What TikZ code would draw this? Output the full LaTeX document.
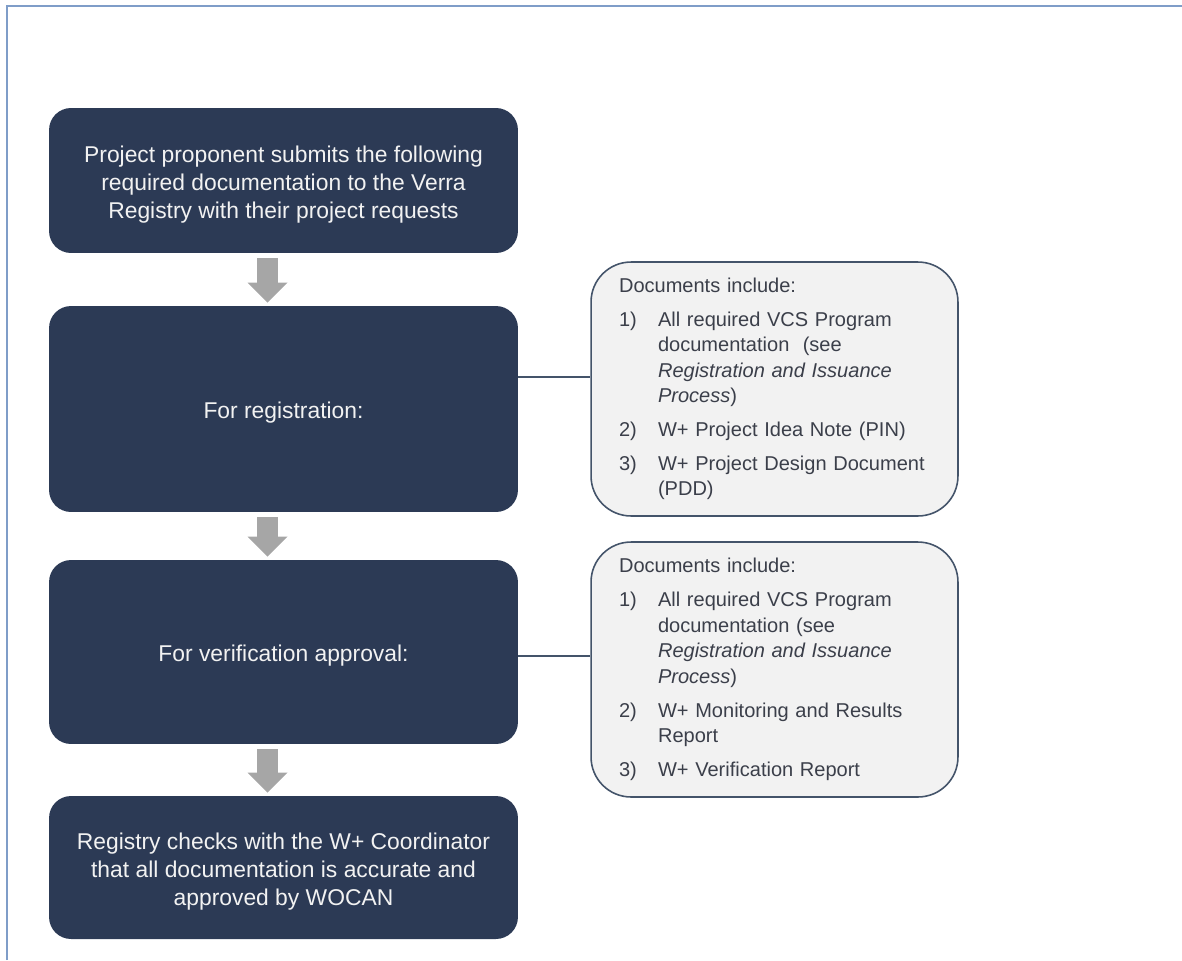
\documentclass[tikz,border=0pt]{standalone}
\usepackage{fontspec}
\setmainfont{Liberation Sans}
\usetikzlibrary{arrows.meta}
\usetikzlibrary{positioning}

\definecolor{navy}{HTML}{2C3A55}
\definecolor{boxtext}{HTML}{F2F2F2}
\definecolor{sidefill}{HTML}{F2F2F2}
\definecolor{sidetext}{HTML}{3B3F4A}
\definecolor{edgecol}{HTML}{44546A}
\definecolor{arrowgray}{HTML}{A6A6A6}
\definecolor{framecol}{HTML}{7F9DC8}

\newcommand{\topstrut}{\rule{0pt}{14pt}}

\begin{document}
\begin{tikzpicture}[x=0.02cm, y=-0.02cm]
	\useasboundingbox (0,0) rectangle (1182,960);
	\draw[framecol, line width=1.3pt] (7,960) -- (7,6) -- (1182,6);

	\begin{scope}[every node/.style={rectangle, rounded corners=0.44cm, fill=navy, text=boxtext,
	              minimum width=9.38cm, align=center, font=\fontsize{13}{16}\selectfont}]
		\node[minimum height=2.9cm] (1) at (283.5,180.5) {\topstrut Project proponent submits the following\\required documentation to the Verra\\Registry with their project requests};
		\node[minimum height=4.12cm] (2) at (283.5,409) {\topstrut For registration:};
		\node[minimum height=3.68cm] (3) at (283.5,652) {\topstrut For verification approval:};
		\node[minimum height=2.86cm] (4) at (283.5,867.5) {\topstrut Registry checks with the W+ Coordinator\\that all documentation is accurate and\\approved by WOCAN};
	\end{scope}

	\begin{scope}[every node/.style={rectangle, rounded corners=0.8cm, draw=edgecol, line width=0.9pt,
	              fill=sidefill, text=sidetext, inner xsep=0.56cm, text width=6.22cm, align=left,
	              font=\fontsize{11.4}{14.5}\selectfont}]
		\node[minimum height=5.08cm] (5) at (774.5,389) {%
			\begin{tabular}{@{}p{22.2pt}@{}l@{}}
			\multicolumn{2}{@{}l@{}}{Documents include:}\\[4.8pt]
			1) & All required VCS Program\\
			   & documentation~ (see\\
			   & \textit{Registration and Issuance}\\
			   & \textit{Process})\\[4.8pt]
			2) & W+ Project Idea Note (PIN)\\[4.8pt]
			3) & W+ Project Design Document\\
			   & (PDD)
			\end{tabular}};
		\node[minimum height=5.1cm] (6) at (774.5,669.5) {%
			\begin{tabular}{@{}p{22.2pt}@{}l@{}}
			\multicolumn{2}{@{}l@{}}{Documents include:}\\[4.8pt]
			1) & All required VCS Program\\
			   & documentation (see\\
			   & \textit{Registration and Issuance}\\
			   & \textit{Process})\\[4.8pt]
			2) & W+ Monitoring and Results\\
			   & Report\\[4.8pt]
			3) & W+ Verification Report
			\end{tabular}};
	\end{scope}

	% links to the document lists
	\coordinate (l2) at ([yshift=0.24cm]5.west);
	\coordinate (l3) at ([yshift=0.27cm]6.west);
	\draw[edgecol, line width=0.9pt] (l2 -| 2.east) -- (l2);
	\draw[edgecol, line width=0.9pt] (l3 -| 3.east) -- (l3);

	\begin{scope}[every edge/.style={draw=arrowgray, line width=0.42cm,
	              -{Triangle[width=0.8cm, length=0.4cm, line width=0pt]},
	              shorten <=0.1cm, shorten >=0.06cm}]
		\path ([xshift=-0.32cm]1.south) edge ([xshift=-0.32cm]2.north);
		\path ([xshift=-0.32cm]2.south) edge ([xshift=-0.32cm]3.north);
		\path ([xshift=-0.32cm]3.south) edge ([xshift=-0.32cm]4.north);
	\end{scope}
\end{tikzpicture}
\end{document}
